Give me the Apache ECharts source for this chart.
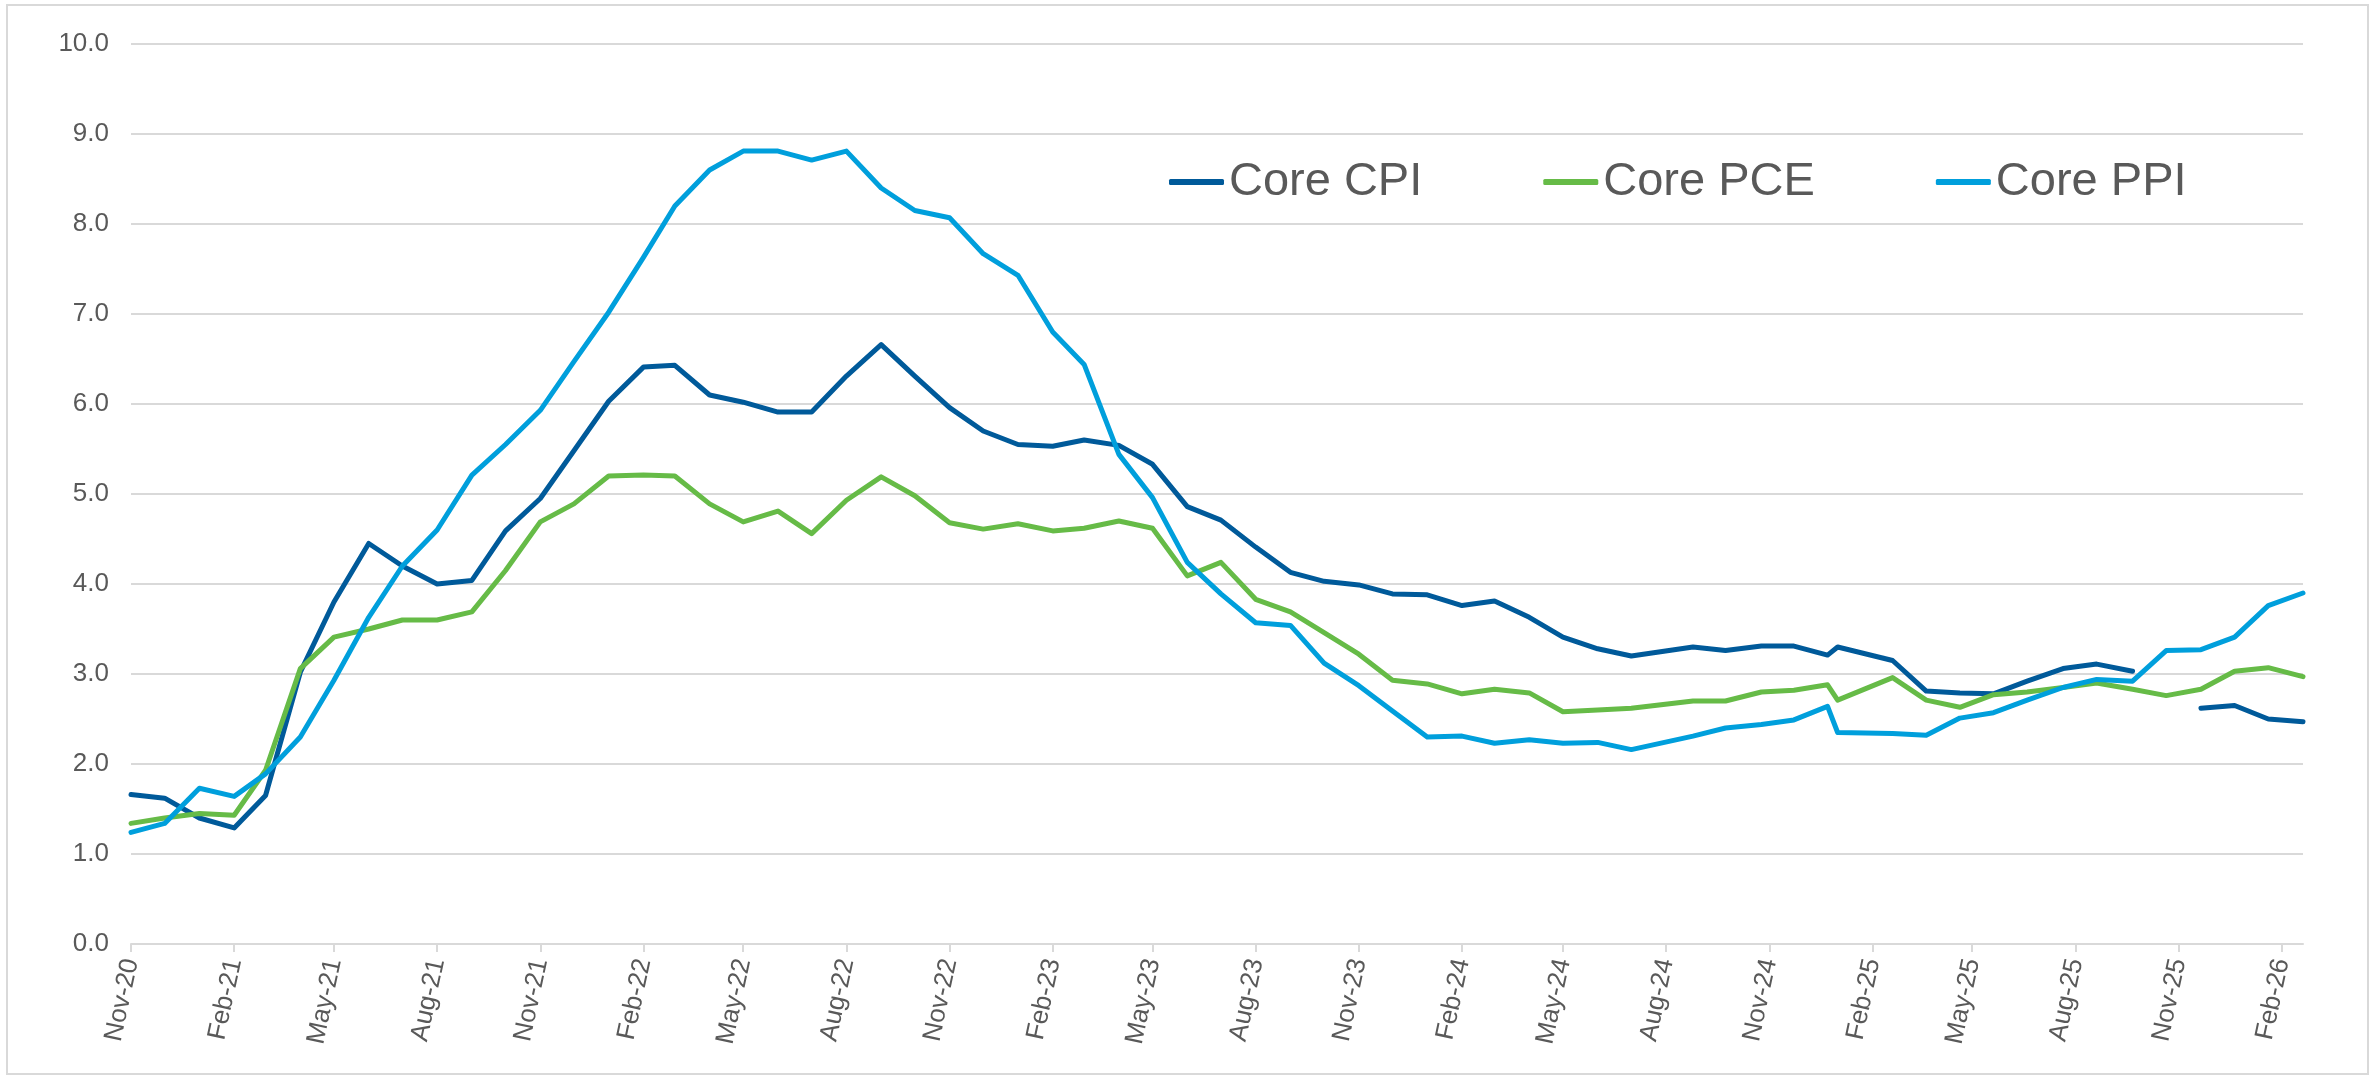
<!DOCTYPE html>
<html>
<head>
<meta charset="utf-8">
<script src="https://cdn.jsdelivr.net/npm/echarts@6/dist/echarts.min.js"></script>
<style>
html,body{margin:0;padding:0;background:#fff;}
#chart{width:2377px;height:1079px;}
</style>
</head>
<body>
<div id="chart"></div>
<script>
// ---- data ----
const dates = [
  '2020-11-01','2020-12-01','2021-01-01','2021-02-01','2021-03-01','2021-04-01','2021-05-01','2021-06-01',
  '2021-07-01','2021-08-01','2021-09-01','2021-10-01','2021-11-01','2021-12-01','2022-01-01','2022-02-01',
  '2022-03-01','2022-04-01','2022-05-01','2022-06-01','2022-07-01','2022-08-01','2022-09-01','2022-10-01',
  '2022-11-01','2022-12-01','2023-01-01','2023-02-01','2023-03-01','2023-04-01','2023-05-01','2023-06-01',
  '2023-07-01','2023-08-01','2023-09-01','2023-10-01','2023-11-01','2023-12-01','2024-01-01','2024-02-01',
  '2024-03-01','2024-04-01','2024-05-01','2024-06-01','2024-07-01','2024-08-25','2024-09-23','2024-10-25',
  '2024-11-23','2024-12-23','2025-01-01','2025-02-19','2025-03-21','2025-04-20','2025-05-20','2025-06-19',
  '2025-07-21','2025-08-20','2025-09-21','2025-10-21','2025-11-21','2025-12-21','2026-01-20','2026-02-20'
];
const coreCPI = [
  1.66,1.62,1.40,1.29,1.65,3.02,3.80,4.45,
  4.20,4.00,4.04,4.59,4.95,5.48,6.03,6.41,
  6.43,6.10,6.02,5.91,5.91,6.31,6.66,6.31,
  5.96,5.70,5.55,5.53,5.60,5.54,5.33,4.86,
  4.71,4.41,4.13,4.03,3.99,3.89,3.88,3.76,
  3.81,3.63,3.41,3.28,3.20,3.30,3.26,3.31,
  3.31,3.21,3.30,3.15,2.81,2.79,2.78,2.92,
  3.06,3.11,3.03,null,2.62,2.65,2.50,2.47
];
const corePCE = [
  1.34,1.40,1.45,1.43,1.93,3.06,3.41,3.50,
  3.60,3.60,3.69,4.15,4.69,4.89,5.20,5.21,
  5.20,4.89,4.69,4.81,4.56,4.93,5.19,4.98,
  4.68,4.61,4.67,4.59,4.62,4.70,4.62,4.09,
  4.24,3.83,3.69,3.46,3.22,2.93,2.89,2.78,
  2.83,2.79,2.58,2.60,2.62,2.70,2.70,2.80,
  2.82,2.88,2.71,2.96,2.71,2.63,2.77,2.80,
  2.85,2.90,2.83,2.76,2.83,3.03,3.07,2.97
];
const corePPI = [
  1.24,1.34,1.73,1.64,1.89,2.30,2.93,3.63,
  4.20,4.60,5.21,5.55,5.93,6.47,7.02,7.63,
  8.20,8.60,8.81,8.81,8.71,8.81,8.40,8.15,
  8.07,7.67,7.43,6.80,6.44,5.44,4.96,4.24,
  3.89,3.57,3.54,3.12,2.87,2.59,2.30,2.31,
  2.23,2.27,2.23,2.24,2.16,2.31,2.40,2.44,
  2.49,2.64,2.35,2.34,2.32,2.51,2.57,2.71,
  2.85,2.94,2.92,3.26,3.27,3.41,3.76,3.90
];
const tickDates = [
  '2020-11-01','2021-02-01','2021-05-01','2021-08-01','2021-11-01','2022-02-01','2022-05-01','2022-08-01',
  '2022-11-01','2023-02-01','2023-05-01','2023-08-01','2023-11-01','2024-02-01','2024-05-01','2024-08-01',
  '2024-11-01','2025-02-01','2025-05-01','2025-08-01','2025-11-01','2026-02-01'
];
const tickLabels = [
  'Nov-20','Feb-21','May-21','Aug-21','Nov-21','Feb-22','May-22','Aug-22',
  'Nov-22','Feb-23','May-23','Aug-23','Nov-23','Feb-24','May-24','Aug-24',
  'Nov-24','Feb-25','May-25','Aug-25','Nov-25','Feb-26'
];
const seriesNames = ['Core CPI','Core PCE','Core PPI'];

// ---- build: x = days since first date ----
const ts = s => { const p = s.split('-').map(Number); return Date.UTC(p[0], p[1]-1, p[2]); };
const t0 = ts(dates[0]);
const dayOf = s => Math.round((ts(s) - t0) / 86400000);
const xs = dates.map(dayOf);
const tickX = tickDates.map(dayOf);
const labelMap = {};
tickX.forEach((t,i) => { labelMap[t] = tickLabels[i]; });
const pair = arr => arr.map((v,i) => [xs[i], v]);

const colors = ['#005A9A','#66BB47','#009FDC'];
const FONT = 'Liberation Sans, Arial, sans-serif';
const GRAY = '#595959';
const GRID = '#d9d9d9';

const chart = echarts.init(document.getElementById('chart'), null, {renderer:'canvas'});
chart.setOption({
  animation: false,
  backgroundColor: '#ffffff',
  color: colors,
  graphic: [{
    type: 'rect', z: -10, silent: true,
    shape: {x: 7, y: 5, width: 2361, height: 1069},
    style: {fill: 'none', stroke: '#d9d9d9', lineWidth: 2}
  }],
  grid: {left: 131, right: 74, top: 44, bottom: 135, containLabel: false, outerBoundsMode: 'none'},
  legend: {
    left: 1164, top: 149,
    itemWidth: 55, itemHeight: 6, itemGap: 121,
    icon: 'roundRect',
    data: seriesNames,
    textStyle: {fontSize: 47, color: GRAY, fontFamily: FONT, lineHeight: 56}
  },
  xAxis: {
    type: 'value',
    min: xs[0], max: xs[xs.length-1],
    splitLine: {show: false},
    axisLine: {show: true, onZero: false, lineStyle: {color: GRID, width: 2}},
    axisTick: {show: true, length: 8, lineStyle: {color: GRID, width: 2}, customValues: tickX},
    axisLabel: {
      customValues: tickX,
      rotate: 78,
      margin: 15,
      fontSize: 26,
      color: GRAY,
      fontFamily: FONT,
      formatter: v => labelMap[v] || ''
    }
  },
  yAxis: {
    type: 'value', min: 0, max: 10, interval: 1,
    axisLine: {show: false},
    axisTick: {show: false},
    splitLine: {show: true, lineStyle: {color: GRID, width: 2}},
    axisLabel: {fontSize: 26, color: GRAY, fontFamily: FONT, margin: 22, formatter: v => v.toFixed(1)}
  },
  series: [
    {name: seriesNames[0], type: 'line', data: pair(coreCPI), showSymbol: false, symbol: 'none',
     connectNulls: false, lineStyle: {width: 5, color: colors[0], cap: 'round', join: 'round'}},
    {name: seriesNames[1], type: 'line', data: pair(corePCE), showSymbol: false, symbol: 'none',
     lineStyle: {width: 5, color: colors[1], cap: 'round', join: 'round'}},
    {name: seriesNames[2], type: 'line', data: pair(corePPI), showSymbol: false, symbol: 'none',
     lineStyle: {width: 5, color: colors[2], cap: 'round', join: 'round'}}
  ]
});
</script>
</body>
</html>
